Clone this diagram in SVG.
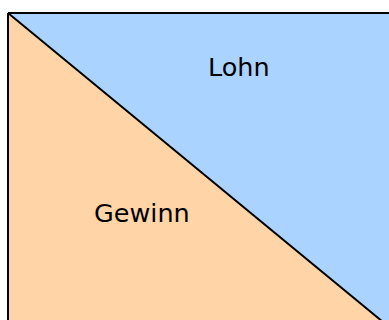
<svg xmlns="http://www.w3.org/2000/svg" width="389" height="320" viewBox="0 0 389 320">
<style>
.lbl{font-family:"DejaVu Sans",Verdana,sans-serif;font-size:25.5px;fill:#000}
.edge{stroke:#000;stroke-width:2;fill:none}
</style>
<rect width="389" height="320" fill="#fff"/>
<g id="lohn">
<polygon points="8,13 400,13 400,336" fill="#AAD4FF"/>
<text class="lbl" x="208" y="76">Lohn</text>
</g>
<g id="gewinn">
<polygon points="8,13 400,336 8,336" fill="#FFD5A8"/>
<text class="lbl" x="94" y="222">Gewinn</text>
</g>
<g id="connectors">
<path class="edge" d="M8,13 H400 M8,13 V336 M8,13 L400,336"/>
</g>
</svg>
